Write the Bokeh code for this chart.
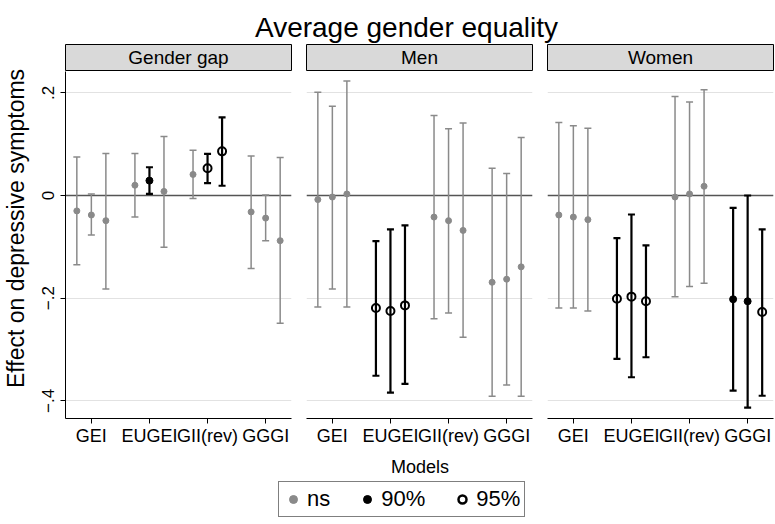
import math
import pandas as pd
from bokeh.plotting import figure
from bokeh.models import (ColumnDataSource, Range1d, FixedTicker, Whisker, TeeHead,
                          Span, Label, Legend, LegendItem)
from bokeh.layouts import column, row
from bokeh.embed import file_html
from bokeh.resources import INLINE

# ---------------- data ----------------
indices = ["GEI", "EUGEI", "GII(rev)", "GGGI"]
panel_names = ["Gender gap", "Men", "Women"]
model_offsets = [-0.25, 0.0, 0.25]
y_ticks = [-0.4, -0.2, 0.0, 0.2]
y_tick_labels = ["\u2212.4", "\u2212.2", "0", ".2"]
sig_levels = ["ns", "90%", "95%"]

# order: GEI m1..m3, EUGEI m1..m3, GII(rev) m1..m3, GGGI m1..m3
gap_est = [-0.030, -0.038, -0.049, 0.020, 0.029, 0.008, 0.041, 0.053, 0.086, -0.032, -0.044, -0.088]
gap_lo = [-0.135, -0.077, -0.182, -0.042, 0.003, -0.101, -0.006, 0.024, 0.019, -0.142, -0.088, -0.249]
gap_hi = [0.075, 0.003, 0.082, 0.082, 0.055, 0.115, 0.088, 0.081, 0.152, 0.077, 0.001, 0.074]
gap_sig = ["ns", "ns", "ns", "ns", "90%", "ns", "ns", "95%", "95%", "ns", "ns", "ns"]

men_est = [-0.008, -0.003, 0.003, -0.219, -0.225, -0.214, -0.042, -0.049, -0.068, -0.169, -0.163, -0.139]
men_lo = [-0.217, -0.182, -0.217, -0.351, -0.384, -0.367, -0.240, -0.229, -0.276, -0.391, -0.369, -0.391]
men_hi = [0.201, 0.174, 0.223, -0.089, -0.066, -0.058, 0.156, 0.130, 0.141, 0.053, 0.043, 0.113]
men_sig = ["ns", "ns", "ns", "95%", "95%", "95%", "ns", "ns", "ns", "ns", "ns", "ns"]

women_est = [-0.038, -0.042, -0.047, -0.201, -0.197, -0.206, -0.003, 0.003, 0.018, -0.202, -0.206, -0.227]
women_lo = [-0.219, -0.219, -0.225, -0.318, -0.354, -0.315, -0.197, -0.177, -0.171, -0.380, -0.413, -0.390]
women_hi = [0.142, 0.136, 0.131, -0.083, -0.037, -0.097, 0.193, 0.182, 0.206, -0.024, 0.000, -0.066]
women_sig = ["ns", "ns", "ns", "95%", "95%", "95%", "ns", "ns", "ns", "90%", "90%", "95%"]

panel_data = [
    (gap_est, gap_lo, gap_hi, gap_sig),
    (men_est, men_lo, men_hi, men_sig),
    (women_est, women_lo, women_hi, women_sig),
]

y_title = "Effect on depressive symptoms"
x_title = "Models"
main_title = "Average gender equality"

# ---------------- styles ----------------
FONT = "Liberation Sans"
GRAY = "#8a8a8a"
styles = {
    "ns": dict(wcolor=GRAY, wlw=1.5, size=6, fill=GRAY, line=GRAY, mlw=1),
    "90%": dict(wcolor="black", wlw=2.2, size=7, fill="black", line="black", mlw=1),
    "95%": dict(wcolor="black", wlw=2.2, size=8, fill="white", line="black", mlw=2),
}

FRAME_W = 227
LABEL_W = 30          # width of the strip holding the y title
P1_LEFT = 35          # left border of first panel (tick labels)
X_RANGE = (0.555, 4.445)
Y_RANGE = (-0.4343, 0.2415)


def build_df(est, lo, hi, sig):
    rows = []
    for i, _name in enumerate(indices):
        for m, off in enumerate(model_offsets):
            k = i * 3 + m
            rows.append(dict(x=i + 1 + off, est=est[k], lo=lo[k], hi=hi[k], sig=sig[k]))
    return pd.DataFrame(rows)


def make_strip(i):
    left = P1_LEFT if i == 0 else 14
    s = figure(width=left + FRAME_W, height=28, x_range=Range1d(0, 1), y_range=Range1d(0, 1),
               min_border_left=left, min_border_right=1, min_border_top=1, min_border_bottom=1,
               toolbar_location=None, output_backend="svg",
               x_axis_location=None, y_axis_location=None)
    s.background_fill_color = "#d9d9d9"
    s.border_fill_color = "white"
    s.outline_line_color = "black"
    s.outline_line_width = 1
    s.grid.visible = False
    s.add_layout(Label(x=0.5, y=0.5, text=panel_names[i], text_align="center",
                       text_baseline="middle", text_font=FONT, text_font_size="19px",
                       text_color="black"))
    return s


def make_panel(i, df):
    left = P1_LEFT if i == 0 else 14
    p = figure(width=left + FRAME_W, height=379,
               x_range=Range1d(*X_RANGE), y_range=Range1d(*Y_RANGE),
               min_border_left=left, min_border_right=0, min_border_top=0, min_border_bottom=32,
               toolbar_location=None, output_backend="svg",
               y_axis_location="left" if i == 0 else None)
    p.outline_line_color = None
    p.background_fill_color = "white"
    p.border_fill_color = "white"
    p.xgrid.visible = False
    p.ygrid.ticker = FixedTicker(ticks=y_ticks)
    p.ygrid.grid_line_color = "#e2e2e2"
    p.ygrid.grid_line_width = 1

    xa = p.xaxis[0]
    xa.ticker = FixedTicker(ticks=[1, 2, 3, 4])
    xa.major_label_overrides = {k + 1: name for k, name in enumerate(indices)}
    xa.axis_line_color = "black"
    xa.major_tick_line_color = "black"
    xa.major_tick_out = 5
    xa.major_tick_in = 0
    xa.minor_tick_line_color = None
    xa.major_label_text_font = FONT
    xa.major_label_text_font_size = "18px"
    xa.major_label_text_color = "black"
    xa.major_label_standoff = 2

    if i == 0:
        ya = p.yaxis[0]
        ya.ticker = FixedTicker(ticks=y_ticks)
        ya.major_label_overrides = {t: lab for t, lab in zip(y_ticks, y_tick_labels)}
        ya.major_label_orientation = "vertical"
        ya.axis_line_color = "black"
        ya.major_tick_line_color = "black"
        ya.major_tick_out = 5
        ya.major_tick_in = 0
        ya.minor_tick_line_color = None
        ya.major_label_text_font = FONT
        ya.major_label_text_font_size = "17px"
        ya.major_label_text_color = "black"
        ya.major_label_standoff = 6

    p.add_layout(Span(location=0, dimension="width", line_color="#555555",
                      line_width=1.6, level="underlay"))

    for lev in sig_levels:
        sub = df[df["sig"] == lev]
        if len(sub) == 0:
            continue
        st = styles[lev]
        src = ColumnDataSource(sub)
        w = Whisker(source=src, base="x", lower="lo", upper="hi",
                    line_color=st["wcolor"], line_width=st["wlw"], level="glyph",
                    upper_head=TeeHead(size=7, line_color=st["wcolor"], line_width=st["wlw"]),
                    lower_head=TeeHead(size=7, line_color=st["wcolor"], line_width=st["wlw"]))
        p.add_layout(w)
        p.scatter(x="x", y="est", source=src, marker="circle", size=st["size"],
                  fill_color=st["fill"], line_color=st["line"], line_width=st["mlw"])
    return p


strips = [make_strip(i) for i in range(3)]
panels = [make_panel(i, build_df(*panel_data[i])) for i in range(3)]

# left column holding the y-axis title (pixel coordinates)
yl = figure(width=LABEL_W, height=28 + 379, x_range=Range1d(0, LABEL_W), y_range=Range1d(0, 407),
            min_border=0, toolbar_location=None, output_backend="svg",
            x_axis_location=None, y_axis_location=None)
yl.outline_line_color = None
yl.grid.visible = False
yl.add_layout(Label(x=15, y=222, text=y_title, angle=math.pi / 2,
                    text_align="center", text_baseline="middle",
                    text_font=FONT, text_font_size="23px", text_color="black"))

# title
t = figure(width=775, height=43, x_range=Range1d(0, 775), y_range=Range1d(0, 43),
           min_border=0, toolbar_location=None, output_backend="svg",
           x_axis_location=None, y_axis_location=None)
t.outline_line_color = None
t.grid.visible = False
t.add_layout(Label(x=406, y=16, text=main_title, text_align="center",
                   text_baseline="alphabetic", text_font=FONT, text_font_size="28px",
                   text_color="black"))

# bottom: x title + legend
b = figure(width=775, height=74, x_range=Range1d(0, 775), y_range=Range1d(0, 74),
           min_border=0, toolbar_location=None, output_backend="svg",
           x_axis_location=None, y_axis_location=None)
b.outline_line_color = None
b.grid.visible = False
b.add_layout(Label(x=419.5, y=58, text=x_title, text_align="center",
                   text_baseline="middle", text_font=FONT, text_font_size="18px",
                   text_color="black"))
leg_items = []
for lev in sig_levels:
    st = styles[lev]
    size = 5 if lev == "ns" else st["size"]
    # legend proxies: one point far outside the visible range
    r = b.scatter(x=[-1000], y=[-1000], marker="circle", size=size, fill_color=st["fill"],
                  line_color=st["line"], line_width=2.5 if lev == "95%" else st["mlw"])
    leg_items.append(LegendItem(label=lev, renderers=[r]))
legend = Legend(items=leg_items, orientation="horizontal", location=(278, 7),
                padding=4, spacing=27, glyph_width=20, glyph_height=20, label_standoff=4,
                label_text_font=FONT, label_text_font_size="22px", label_text_color="black",
                border_line_color="black", border_line_width=1, background_fill_color="white",
                background_fill_alpha=1.0, margin=0)
b.add_layout(legend)

layout = column(t, row(yl, *[column(strips[i], panels[i]) for i in range(3)]), b)

open("out.html", "w").write(file_html(layout, INLINE))
